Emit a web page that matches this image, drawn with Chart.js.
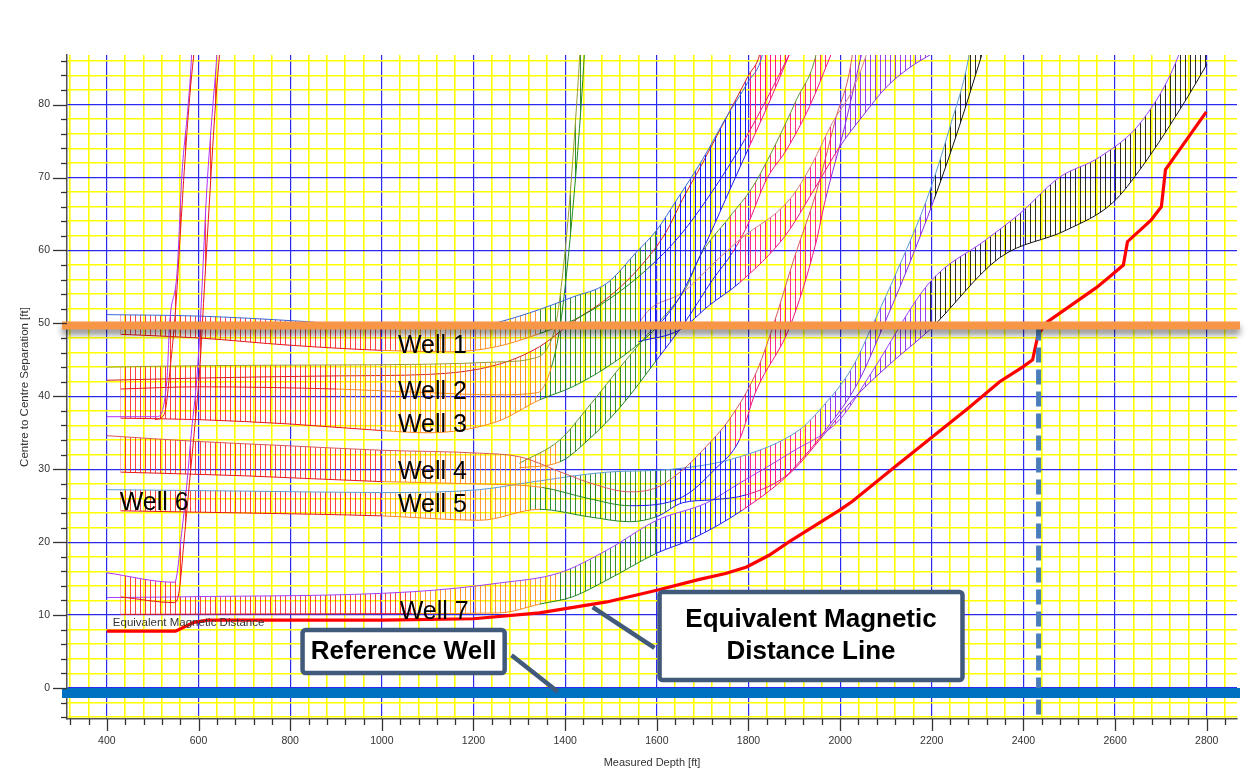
<!DOCTYPE html>
<html>
<head>
<meta charset="utf-8">
<script src="https://cdn.jsdelivr.net/npm/chart.js@4.4.1/dist/chart.umd.min.js"></script>
<style>
html,body{margin:0;padding:0;background:#fff;}
#wrap{width:1252px;height:777px;position:relative;}
</style>
</head>
<body>
<div id="wrap"><canvas id="c" width="1252" height="777"></canvas></div>
<script>
// ---------------- DATA (measured depth [ft], centre-to-centre separation [ft]) ----------------
const emdLine = [[400,7.8],[550,7.8],[590,9.0],[620,9.3],[1000,9.3],[1200,9.5],[1344,10.3],[1491,11.8],[1600,13.4],[1693,14.9],[1750,15.7],[1796,16.6],[1845,18.2],[1890,20.1],[1999,24.4],[2027,25.6],[2119,30.3],[2173,33],[2282,38.5],[2348,42],[2398,44],[2420,45],[2432,48.5],[2452,50.2],[2559,54.9],[2588,56.4],[2618,58],[2627,61.2],[2679,64.2],[2701,66],[2710,71.1],[2799,79]];

const well1Upper = [[400,51.2],[600,51.0],[820,50.3],[1040,49.3],[1190,49.3],[1257,50.2],[1344,51.9],[1416,53.6],[1491,55.5],[1556,59.8],[1600,62.8],[1643,66.9],[1700,72.5],[1752,78.3],[1798,83],[1831,87],[1890,110]];
const well1Lower = [[430,48.5],[600,48.0],[800,47.0],[1000,46.3],[1150,46.1],[1250,46.8],[1344,48.6],[1420,50.5],[1500,53.5],[1580,57.5],[1650,62],[1720,68],[1790,75],[1850,82],[1890,87]];

const well2Upper = [[400,44.0],[600,44.2],[900,44.3],[1100,44.4],[1250,44.7],[1330,45.2],[1360,46.5],[1380,50],[1395,57],[1410,67],[1425,80],[1432,87],[1442,100]];
const well2Lower = [[430,41.0],[600,41.3],[900,41.0],[1100,40.5],[1250,40.2],[1340,40.5],[1370,44],[1390,50],[1405,58],[1420,68],[1435,80],[1442,87]];

const well3Upper = [[400,42.2],[600,42.5],[900,42.8],[1100,43.0],[1250,44.3],[1344,46.8],[1416,50.2],[1491,53.4],[1560,57.5],[1620,62.5],[1656,67],[1700,72],[1750,78],[1800,84],[1825,87],[1890,110]];
const well3Lower = [[430,37.0],[600,36.8],[800,36.2],[1000,35.3],[1100,35.0],[1250,36.5],[1344,39.5],[1416,41.3],[1491,44],[1563,47.3],[1600,49.5],[1650,53.6],[1700,60],[1750,67],[1800,74],[1850,81],[1890,87]];

const well3BranchUpper = [[1550,49],[1584,51.9],[1656,54.2],[1720,58],[1781,61.5],[1890,67],[1940,72],[1983,77.5],[2027,82],[2058,87],[2201,120]];
const well3BranchLower = [[1560,47.5],[1650,49.1],[1715,52.5],[1781,55.6],[1880,62],[1940,68],[1999,74.2],[2050,78.5],[2101,82.4],[2150,85],[2201,87]];

const well4Upper = [[400,34.6],[600,33.8],[800,33.2],[1000,32.6],[1213,32.2],[1301,31.7],[1395,29.5],[1460,28],[1541,26.9],[1600,27.5],[1656,29.9],[1700,32.6],[1760,37],[1815,43],[1853,49.5],[1900,59],[1948,68],[1990,78],[2027,87],[2047,100]];
const well4Lower = [[430,29.6],[700,29.1],[1000,28.3],[1200,28.0],[1350,27.5],[1450,26],[1541,25],[1656,26.2],[1727,30],[1780,34],[1815,40.5],[1890,49.5],[1947,61],[1968,67],[2010,77],[2047,87]];

const well4BranchUpper = [[1300,30.8],[1388,34],[1450,38.5],[1520,44],[1580,48.5],[1630,52],[1665,55],[1693,59.1],[1759,64.6],[1809,68.7],[1853,73.8],[1905,80.7],[1948,87],[1981,100]];
const well4BranchLower = [[1300,30.2],[1388,31],[1450,34],[1520,38.5],[1600,45],[1665,50.5],[1722,56],[1765,59.7],[1796,63.2],[1839,69.7],[1883,73.8],[1933,79.7],[1981,87]];

const well5Upper = [[400,27.2],[700,27.0],[1000,26.8],[1213,27.2],[1322,28.2],[1491,29.6],[1634,30],[1781,31.7],[1911,35.4],[1955,38.1],[2027,44],[2071,49.8],[2130,58],[2189,67],[2240,77],[2282,87],[2310,100]];
const well5Lower = [[430,24.3],[700,24.0],[1000,23.6],[1213,23.0],[1344,24.5],[1450,23.5],[1541,22.8],[1600,23.5],[1656,25.4],[1720,25.8],[1796,26.5],[1880,29],[1911,31],[1970,35.5],[2040,42],[2090,49],[2150,58],[2205,67],[2260,77],[2310,87]];

const well6SteepUpper = [[400,37.2],[509,37.2],[531,42.2],[537,50],[553,56.9],[564,70.6],[577,79.7],[585,87],[590,96]];
const well6SteepLower = [[505,36.8],[525,37.5],[540,45],[550,52],[560,62],[570,72],[582,82],[590,87]];

const well6Upper = [[400,15.8],[548,14.5],[564,21.7],[574,27.6],[585,35.4],[596,42.2],[603,49.1],[618,68.3],[631,79.7],[640,87],[646,96]];
const well6Lower = [[430,12.5],[548,11.7],[558,13.4],[568,19.9],[580,28],[592,36],[603,44],[612,54],[625,68],[637,80],[646,87]];

const well7Upper = [[400,12.4],[560,12.5],[1067,13.2],[1257,14.4],[1388,15.8],[1491,18.9],[1600,23],[1709,25.4],[1781,28.1],[1890,32.2],[1999,36.8],[2071,43.5],[2195,55.6],[2319,61.5],[2391,65],[2478,70],[2566,72.8],[2659,77.8],[2740,87],[2800,100]];
const well7Lower = [[430,10.1],[1067,10.2],[1257,10.3],[1344,11.5],[1416,12.5],[1491,14.8],[1600,18.5],[1672,20.3],[1787,24.4],[1900,30],[1955,34],[2027,39.5],[2110,44.5],[2195,49.1],[2348,59],[2494,62.8],[2594,66.5],[2659,71.5],[2755,80.7],[2800,85.5]];

const wellNames = ['Well 1','Well 2','Well 3','Well 4','Well 5','Well 6','Well 7'];
const separationLimit = 49.7;     // horizontal limit line [ft]
const referenceWellSep = -0.7;    // reference well line [ft]
const limitDepth = 2433;          // depth where EMD crosses limit [ft]

// ---------------- STYLE ----------------
Chart.defaults.font.family = "'Liberation Sans', Arial, sans-serif";

const hatchPalette = [
  [1000, 'rgba(255,30,30,0.85)'],
  [1380, 'rgba(255,140,30,0.9)'],
  [1590, 'rgba(30,130,30,0.9)'],
  [1780, 'rgba(20,20,255,0.9)'],
  [1970, 'rgba(255,20,130,0.9)'],
  [2200, 'rgba(140,40,235,0.9)'],
  [Infinity, 'rgba(20,20,20,0.9)']
];
const linePalette = ['#e81818','#ff8a1a','#1f8a1f','#1a1aee','#f01480','#8a2be2','#111111'];
function paletteIndex(x){ for(let i=0;i<hatchPalette.length;i++){ if(x<hatchPalette[i][0]) return i; } return hatchPalette.length-1; }
const patternCache = {};
function hatch(col){
  if(!patternCache[col]){
    const c = document.createElement('canvas'); c.width = 5; c.height = 8;
    const g = c.getContext('2d'); g.fillStyle = col; g.fillRect(0,0,1,8);
    patternCache[col] = g.createPattern(c,'repeat');
  }
  return patternCache[col];
}
const midX = c => (c.p0.parsed.x + c.p1.parsed.x)/2;
const toXY = arr => arr.map(p => ({x:p[0], y:p[1]}));

const bands = [
  {name:'Well 6 steep', upper:well6SteepUpper, lower:well6SteepLower, edge:'#b030ff'},
  {name:'Well 6', upper:well6Upper, lower:well6Lower, edge:'#b030ff'},
  {name:'Well 1', upper:well1Upper, lower:well1Lower, edge:'#3a6ad8'},
  {name:'Well 2', upper:well2Upper, lower:well2Lower, edge:'#9aa030'},
  {name:'Well 3', upper:well3Upper, lower:well3Lower, edge:'#d42020'},
  {name:'Well 3 branch', upper:well3BranchUpper, lower:well3BranchLower, edge:'#d98080'},
  {name:'Well 4', upper:well4Upper, lower:well4Lower, edge:'#d85a5a'},
  {name:'Well 4 branch', upper:well4BranchUpper, lower:well4BranchLower, edge:'#5f9a2f'},
  {name:'Well 5', upper:well5Upper, lower:well5Lower, edge:'#5b9bd5'},
  {name:'Well 7', upper:well7Upper, lower:well7Lower, edge:'#a040ff'}
];

const datasets = [{
  label:'Equivalent Magnetic Distance', data: toXY(emdLine), borderColor:'#ff0000', borderWidth:3.2,
  fill:false, tension:0, pointRadius:0
}];
bands.forEach(b => {
  datasets.push({
    label: b.name + ' lower', data: toXY(b.lower), fill:false, borderWidth:1,
    borderColor: linePalette[0], cubicInterpolationMode:'monotone', pointRadius:0,
    segment:{ borderColor: c => linePalette[paletteIndex(midX(c))] }
  });
  datasets.push({
    label: b.name + ' upper', data: toXY(b.upper), fill:'-1', borderWidth:1,
    borderColor: b.edge, backgroundColor: hatch(hatchPalette[0][1]),
    cubicInterpolationMode:'monotone', pointRadius:0,
    segment:{ backgroundColor: c => hatch(hatchPalette[paletteIndex(midX(c))][1]) }
  });
});

// ---------------- PLUGINS ----------------
const bgPlugin = {
  id:'bg',
  beforeDraw(chart){ const g=chart.ctx; g.save(); g.fillStyle='#fff'; g.fillRect(0,0,chart.width,chart.height); g.restore(); }
};

const tickPlugin = {
  id:'tickMarks',
  afterDraw(chart){
    const g = chart.ctx, xs = chart.scales.x, ys = chart.scales.y, a = chart.chartArea;
    g.save(); g.strokeStyle='#333'; g.lineWidth=1.3;
    xs.ticks.forEach(t => {
      const p = Math.round(xs.getPixelForValue(t.value))+0.5;
      const len = (t.value % 200 === 0) ? 12 : 6;
      g.beginPath(); g.moveTo(p, a.bottom); g.lineTo(p, a.bottom+len); g.stroke();
    });
    ys.ticks.forEach(t => {
      const p = Math.round(ys.getPixelForValue(t.value))+0.5;
      const len = (t.value % 10 === 0) ? 14 : 6;
      g.beginPath(); g.moveTo(a.left-len, p); g.lineTo(a.left, p); g.stroke();
    });
    g.restore();
  }
};

const overlayPlugin = {
  id:'overlay',
  afterDatasetsDraw(chart){
    const g = chart.ctx, xs = chart.scales.x, ys = chart.scales.y, a = chart.chartArea;
    const X = v => xs.getPixelForValue(v), Y = v => ys.getPixelForValue(v);
    g.save();
    // dashed vertical at limit depth
    g.strokeStyle = '#4a7ebb'; g.lineWidth = 5; g.setLineDash([15,7]);
    g.beginPath(); g.moveTo(X(limitDepth), Y(separationLimit)); g.lineTo(X(limitDepth), a.bottom-4); g.stroke();
    g.setLineDash([]);
    // orange separation limit with shadow
    g.save();
    g.shadowColor = 'rgba(0,0,0,0.45)'; g.shadowBlur = 6; g.shadowOffsetY = 5;
    g.strokeStyle = '#f79646'; g.lineWidth = 8;
    g.beginPath(); g.moveTo(a.left-5, Y(separationLimit)); g.lineTo(a.right+3, Y(separationLimit)); g.stroke();
    g.restore();
    // reference well line
    g.strokeStyle = '#0070c0'; g.lineWidth = 10;
    g.beginPath(); g.moveTo(a.left-5, Y(referenceWellSep)); g.lineTo(a.right+3, Y(referenceWellSep)); g.stroke();

    // well labels
    g.fillStyle = '#000'; g.font = "25px 'Liberation Sans', Arial, sans-serif"; g.textBaseline = 'middle'; g.textAlign = 'left';
    const labelAnchors = [[1035,46.9],[1035,40.6],[1035,36.1],[1035,29.6],[1035,25.1],[428,25.4],[1039,10.4]];
    wellNames.forEach((n,i) => g.fillText(n, X(labelAnchors[i][0]), Y(labelAnchors[i][1])));
    // small EMD caption
    g.fillStyle = '#333'; g.font = "11.5px 'Liberation Sans', Arial, sans-serif";
    g.fillText('Equivalent Magnetic Distance', X(413), Y(8.9));

    // callouts
    const callout = (x0,y0,x1,y1,lines,pFrom,pTo) => {
      const L = X(x0), T = Y(y0), R = X(x1), B = Y(y1);
      g.strokeStyle = '#41597a'; g.lineWidth = 4.5; g.lineCap = 'butt';
      g.beginPath(); g.moveTo(X(pFrom[0]),Y(pFrom[1])); g.lineTo(X(pTo[0]),Y(pTo[1])); g.stroke();
      g.fillStyle = '#fff';
      g.beginPath(); g.roundRect(L,T,R-L,B-T,3); g.fill(); g.stroke();
      g.fillStyle = '#000'; g.font = "bold 26px 'Liberation Sans', Arial, sans-serif"; g.textAlign = 'center';
      const cx = (L+R)/2, cy = (T+B)/2, lh = 32;
      lines.forEach((t,i) => g.fillText(t, cx, cy + (i - (lines.length-1)/2)*lh));
    };
    callout(827, 7.96, 1268, 2.06, ['Reference Well'], [1283,4.5], [1384,-0.5]);
    callout(1606, 13.17, 2267, 1.1, ['Equivalent Magnetic','Distance Line'], [1595,5.5], [1460,11.1]);
    g.restore();
  }
};

// ---------------- CHART ----------------
const gridColourX = c => (c.tick && c.tick.value % 200 === 0) ? '#2a2af0' : '#ffff00';
const gridColourY = c => (c.tick && c.tick.value % 10 === 0) ? '#2a2af0' : '#ffff00';
const gridWidthX = c => (c.tick && c.tick.value % 200 === 0) ? 1.2 : 1.6;
const gridWidthY = c => (c.tick && c.tick.value % 10 === 0) ? 1.2 : 1.6;

new Chart(document.getElementById('c'), {
  type:'line',
  data:{ datasets },
  plugins:[bgPlugin, tickPlugin, overlayPlugin],
  options:{
    responsive:false, animation:false, devicePixelRatio:1,
    layout:{ padding:{ top:55, right:15, left:0, bottom:0 } },
    plugins:{ legend:{display:false}, tooltip:{enabled:false}, filler:{propagate:false} },
    elements:{ point:{ radius:0 } },
    scales:{
      x:{
        type:'linear', min:313, max:2866,
        ticks:{ stepSize:40, autoSkip:false, maxRotation:0, minRotation:0, includeBounds:false, padding:16,
          color:'#333', font:{size:10.5}, callback: v => (v % 200 === 0) ? String(v) : '' },
        grid:{ color:gridColourX, lineWidth:gridWidthX, drawTicks:false },
        border:{ color:'#555', width:1.5 },
        title:{ display:true, text:'Measured Depth [ft]', color:'#333', font:{size:11}, padding:{top:0, bottom:7} },
        afterFit: s => { s.height = 58; }
      },
      y:{
        type:'linear', min:-4.25, max:86.8,
        ticks:{ stepSize:2, autoSkip:false, includeBounds:false, padding:17,
          color:'#333', font:{size:10.5}, callback: v => (v % 10 === 0) ? String(v) : '' },
        grid:{ color:gridColourY, lineWidth:gridWidthY, drawTicks:false },
        border:{ color:'#555', width:1.5 },
        title:{ display:true, text:'Centre to Centre Separation [ft]', color:'#333', font:{size:11.5}, padding:{top:18, bottom:0} },
        afterFit: s => { s.width = 67; }
      }
    }
  }
});
</script>
</body>
</html>
